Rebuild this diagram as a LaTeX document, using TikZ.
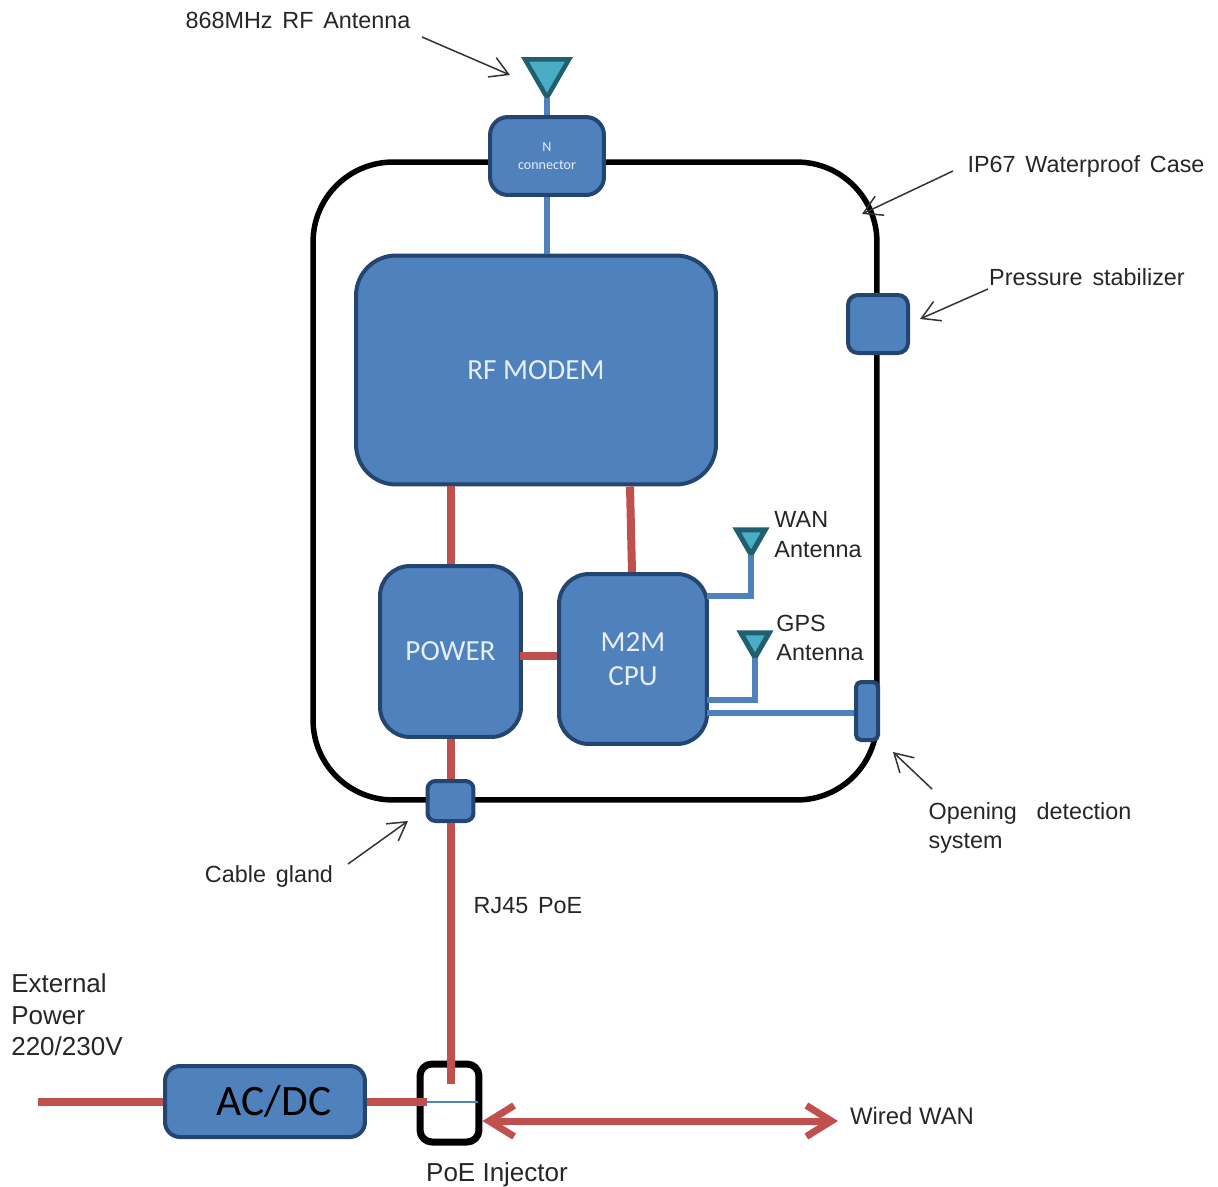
\documentclass[tikz,border=0pt]{standalone}
\usepackage{fontspec}
\setmainfont{Liberation Sans}
\newfontfamily\boxfont{Carlito}
\usetikzlibrary{arrows.meta,shapes.geometric}
\definecolor{boxblue}{HTML}{4F81BD}
\definecolor{boxedge}{HTML}{24456F}
\definecolor{wirered}{HTML}{C0504D}
\definecolor{antfill}{HTML}{4BACC6}
\definecolor{antedge}{HTML}{1F5F6E}
\definecolor{textwhite}{HTML}{E6EEF8}
\newcommand{\lblfont}{\fontsize{13.3}{17}\selectfont\setlength{\spaceskip}{.42em}}
\tikzset{
  unit/.style={draw=boxedge,fill=boxblue,line width=0.08cm,rounded corners=0.36cm,inner sep=0pt,align=center,text=textwhite,font=\boxfont\fontsize{16.6}{20}\selectfont},
  antenna/.style={draw=antedge,fill=antfill,regular polygon,regular polygon sides=3,shape border rotate=180,inner sep=0pt,outer sep=0pt},
  lbl/.style={align=left,inner sep=0pt,text=black!85,font=\lblfont},
  biglbl/.style={align=left,inner sep=0pt,text=black!85,font=\fontsize{14.8}{18}\selectfont},
  redwire/.style={draw=wirered,line width=0.16cm},
  bluewire/.style={draw=boxblue,line width=0.11cm},
  pointer/.style={line width=0.03cm,black!80,-{Straight Barb[length=0.36cm,width=0.42cm]}}
}
\begin{document}
\begin{tikzpicture}[x=0.02cm,y=-0.02cm]
	\useasboundingbox (0,0) rectangle (1218,1187);
	% case outline
	\node[draw=black,line width=0.11cm,rounded corners=1.6cm,minimum width=11.28cm,minimum height=12.76cm,inner sep=0pt] (case) at (595,481) {};
	% free ends
	\coordinate (wanport) at (707,596);
	\coordinate (gpsport) at (707,700);
	\coordinate (openport) at (707,713);
	\coordinate (powerport) at (520,656);
	\coordinate (poeend) at (450.5,1084);
	\coordinate (poeleft) at (427,1101.5);
	\coordinate (poeright) at (478,1101.5);
	\coordinate (mainsend) at (38,1101.5);
	\coordinate (wiredend) at (838,1121);
	\coordinate (rftail) at (422,37);
	\coordinate (rfhead) at (510,75);
	\coordinate (casetail) at (953,171);
	\coordinate (casehead) at (862,214);
	\coordinate (stabtail) at (988,289);
	\coordinate (stabhead) at (920,319);
	\coordinate (opentail) at (932,789);
	\coordinate (openhead) at (893,752);
	\coordinate (glandtail) at (348,864);
	\coordinate (glandhead) at (408,821);
	% antennas
	\node[antenna,line width=0.09cm,minimum size=1.02cm] (rfant) at (547,72) {};
	\node[antenna,line width=0.1cm,minimum size=0.66cm] (wanant) at (751,538) {};
	\node[antenna,line width=0.1cm,minimum size=0.66cm] (gpsant) at (755,641) {};
	% boxes
	\node[unit,minimum width=2.28cm,minimum height=1.56cm,font=\boxfont\fontsize{8}{10}\selectfont] (nconn) at (547,156) {N\\connector};
	\node[unit,minimum width=7.2cm,minimum height=4.58cm,rounded corners=0.8cm] (rfmodem) at (536,370) {RF MODEM};
	\node[unit,minimum width=2.82cm,minimum height=3.42cm,rounded corners=0.6cm] (power) at (450.5,651.5) {POWER};
	\node[unit,minimum width=2.96cm,minimum height=3.4cm,rounded corners=0.6cm,font=\boxfont\fontsize{16.6}{19.5}\selectfont] (cpu) at (633,659) {M2M\\CPU};
	\node[unit,minimum width=1.2cm,minimum height=1.16cm,rounded corners=0.2cm] (stab) at (878,324) {};
	\node[unit,minimum width=0.44cm,minimum height=1.16cm,rounded corners=0.1cm] (opening) at (867,711) {};
	\node[unit,minimum width=0.92cm,minimum height=0.8cm,rounded corners=0.16cm] (gland) at (450.5,801) {};
	\node[unit,minimum width=4cm,minimum height=1.42cm,rounded corners=0.3cm,text=black,font=\boxfont\fontsize{24.7}{28}\selectfont] (acdc) at (265,1101.5) {\hspace*{0.36cm}AC/DC};
	\node[draw=black,fill=white,line width=0.14cm,rounded corners=0.24cm,minimum width=1.18cm,minimum height=1.56cm,inner sep=0pt] (poe) at (449.5,1103) {};
	% wires
	\draw[bluewire] (rfant.south) -- (nconn.north);
	\draw[bluewire] (nconn.south) -- (nconn.south |- rfmodem.north);
	\draw[redwire] (power.north) -- (power.north |- rfmodem.south);
	\draw[redwire] (cpu.north) ++(-1,0) -- ([xshift=-0.06cm]cpu.north |- rfmodem.south);
	\draw[redwire] (powerport) -- (cpu.west |- powerport);
	\draw[redwire] (power.south) -- (gland.north);
	\draw[redwire] (gland.south) -- (poeend);
	\draw[redwire] (mainsend) -- (acdc.west);
	\draw[redwire] (acdc.east) -- (poeleft);
	\draw[draw=boxblue,line width=0.04cm] (poeleft) -- (poeright);
	\draw[bluewire] (wanport) -| (wanant.south);
	\draw[bluewire] (gpsport) -| (gpsant.south);
	\draw[bluewire] (openport) -- (openport -| opening.west);
	\draw[draw=wirered,line width=0.14cm,{Straight Barb[length=0.5cm,width=0.62cm]}-{Straight Barb[length=0.5cm,width=0.62cm]}] (poe.east |- wiredend) -- (wiredend);
	% pointers
	\draw[pointer] (rftail) -- (rfhead);
	\draw[pointer] (casetail) -- (casehead);
	\draw[pointer] (stabtail) -- (stabhead);
	\draw[pointer] (opentail) -- (openhead);
	\draw[pointer] (glandtail) -- (glandhead);
	% labels
	\node[lbl] (rflbl) at (298,20) {868MHz RF Antenna};
	\node[lbl] (caselbl) at (1086,166) {IP67 Waterproof Case};
	\node[lbl] (stablbl) at (1087,277) {Pressure stabilizer};
	\node[lbl] (wanlbl) at (818,535) {WAN\\Antenna};
	\node[lbl] (gpslbl) at (820,638) {GPS\\Antenna};
	\node[lbl] (openlbl) at (1030,828) {Opening\ \ detection\\system};
	\node[lbl] (glandlbl) at (269,876) {Cable gland};
	\node[lbl] (rjlbl) at (528,906) {RJ45 PoE};
	\node[biglbl] (extlbl) at (67,1015) {External\\Power\\220/230V};
	\node[lbl,font=\fontsize{13.6}{17}\selectfont] (wiredlbl) at (912,1116) {Wired WAN};
	\node[biglbl] (poelbl) at (497,1175) {PoE Injector};
\end{tikzpicture}
\end{document}
